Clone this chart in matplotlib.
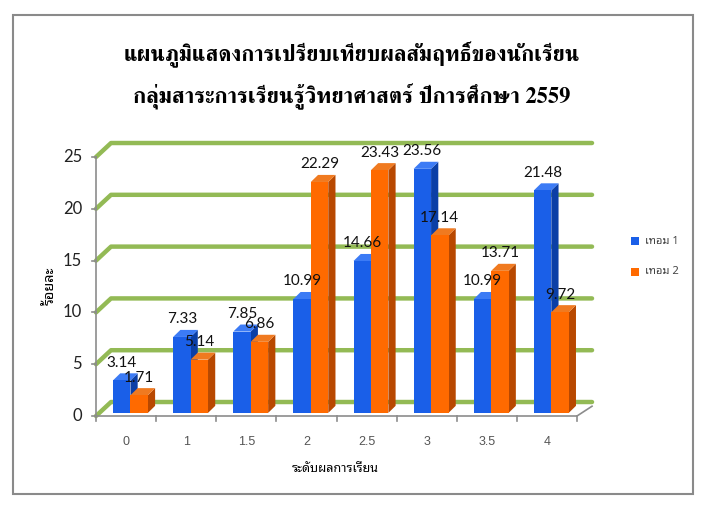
import matplotlib
matplotlib.use("Agg")
import matplotlib.pyplot as plt
from matplotlib.patches import Polygon, Rectangle

categories = ['0', '1', '1.5', '2', '2.5', '3', '3.5', '4']
term1 = [3.14, 7.33, 7.85, 10.99, 14.66, 23.56, 10.99, 21.48]
term2 = [1.71, 5.14, 6.86, 22.29, 23.43, 17.14, 13.71, 9.72]
series_names = ['เทอม 1', 'เทอม 2']
title_line1 = 'แผนภูมิแสดงการเปรียบเทียบผลสัมฤทธิ์ของนักเรียน'
title_line2 = 'กลุ่มสาระการเรียนรู้วิทยาศาสตร์ ปีการศึกษา 2559'
xlabel_text = 'ระดับผลการเรียน'
ylabel_text = 'ร้อยละ'
yticks = [0, 5, 10, 15, 20, 25]

title_fam = ['FreeSerif', 'DejaVu Serif']
thai_sans = ['Noto Sans Thai Looped', 'DejaVu Sans']
num_fam = ['Lato', 'DejaVu Sans']

W, H = 707, 508
fig = plt.figure(figsize=(W / 100, H / 100), dpi=100)
fig.patch.set_facecolor('white')

# outer frame
fig.patches.append(Rectangle((13 / W, 1 - 494 / H), 680 / W, 479 / H, transform=fig.transFigure,
                             fill=False, edgecolor='#8a8a8a', linewidth=1.5))

ax = fig.add_axes([96 / W, (H - 416) / H, 481 / W, 259 / H])
ax.set_xlim(-0.5, len(categories) - 0.5)
ax.set_ylim(0, 25)
ax.axis('off')

DX, DY = 0.25, 1.35       # wall depth
bdx, bdy = 0.12, 0.68     # bar depth
y0 = 0.3
w = 0.29
green = '#93BA55'
gray = '#8c8c8c'
n = len(categories)

# gridlines on back wall
for v in yticks:
    ax.plot([-0.5, -0.5 + DX, n - 0.5 + DX], [v, v + DY, v + DY], color=green, lw=3.2,
            solid_capstyle='round', solid_joinstyle='round', clip_on=False, zorder=1)

# axes lines
ax.plot([-0.5, -0.5], [0, 25], color=gray, lw=1.2, clip_on=False, zorder=2)
ax.plot([-0.5, n - 0.5, n - 0.5 + DX], [0, 0, DY * 0.7], color=gray, lw=1.2, clip_on=False, zorder=2)
for v in yticks:
    ax.plot([-0.5 - 0.07, -0.5], [v, v], color=gray, lw=1.2, clip_on=False)
    ax.text(-0.5 - 0.23, v, str(v), ha='right', va='center', fontsize=12, color='#222222',
            family=num_fam)
for i in range(n + 1):
    ax.plot([i - 0.5, i - 0.5], [0, -0.5], color=gray, lw=1.2, clip_on=False)
for i, c in enumerate(categories):
    ax.text(i, -2.5, c, ha='center', va='center', fontsize=9, color='#555555',
            family=['Liberation Sans', 'DejaVu Sans'])

cols = [('#1A5FE8', '#3C7BF5', '#0B3FA6'), ('#FF6A00', '#F07A20', '#B84800')]


def bar3d(x, v, c, z):
    top = y0 + v
    front = Polygon([(x, y0), (x + w, y0), (x + w, top), (x, top)], closed=True,
                    facecolor=c[0], edgecolor='none', zorder=z, clip_on=False)
    topf = Polygon([(x, top), (x + w, top), (x + w + bdx, top + bdy), (x + bdx, top + bdy)],
                   closed=True, facecolor=c[1], edgecolor='none', zorder=z, clip_on=False)
    side = Polygon([(x + w, y0), (x + w + bdx, y0 + bdy), (x + w + bdx, top + bdy), (x + w, top)],
                   closed=True, facecolor=c[2], edgecolor='none', zorder=z, clip_on=False)
    for p in (side, topf, front):
        ax.add_patch(p)


z = 3
for i in range(n):
    for k, vals in enumerate([term1, term2]):
        x = i - 0.217 + k * w
        bar3d(x, vals[i], cols[k], z)
        z += 1
for i in range(n):
    for k, vals in enumerate([term1, term2]):
        x = i - 0.217 + k * w
        ax.text(x + w / 2, vals[i] + 2.0, f'{vals[i]:.2f}', ha='center', va='center',
                fontsize=11, color='#111111', family=num_fam, zorder=50)

# title, fitted to the reference widths
renderer = fig.canvas.get_renderer()
for txt, yc, target_w in [(title_line1, 55, 458), (title_line2, 97, 438)]:
    t = fig.text(352 / W, 1 - yc / H, txt, ha='center', va='center',
                 fontsize=22, fontweight='bold', family=title_fam)
    bw = t.get_window_extent(renderer).width
    t.set_fontsize(22 * target_w / bw)

fig.text(335 / W, 1 - 469 / H, xlabel_text, ha='center', va='center', fontsize=9,
         fontweight='bold', family=thai_sans)
fig.text(50 / W, 1 - 286 / H, ylabel_text, ha='center', va='center', fontsize=10.5,
         fontweight='bold', rotation=90, family=thai_sans)

# legend
for k, name in enumerate(series_names):
    yc = 241 + k * 31
    fig.patches.append(Rectangle((631 / W, 1 - (yc + 4) / H), 8 / W, 8 / H, transform=fig.transFigure,
                                 facecolor=cols[k][0], edgecolor='none'))
    fig.text(645 / W, 1 - yc / H, name, ha='left', va='center', fontsize=8, color='#444444',
             family=thai_sans)

fig.savefig('out.png', dpi=100)
